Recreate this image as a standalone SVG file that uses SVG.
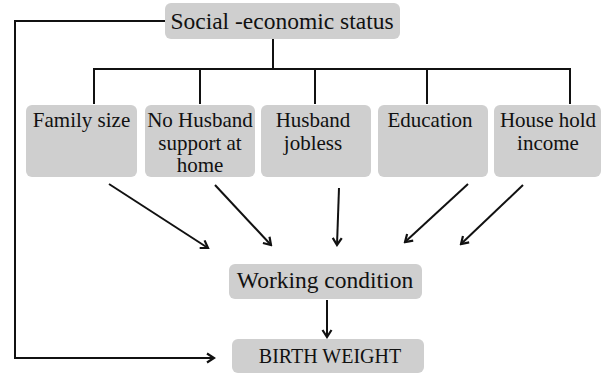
<svg xmlns="http://www.w3.org/2000/svg" width="603" height="374" viewBox="0 0 603 374">
<defs>
<style>
.box{fill:#cfcfcf;}
.t{font-family:"Liberation Serif","DejaVu Serif",serif;fill:#111;text-anchor:middle;}
.s{font-size:21px;}
.l{font-size:23.5px;}
.c{stroke:#111;stroke-width:2;fill:none;}
</style>
<marker id="ah" markerUnits="userSpaceOnUse" viewBox="-10 -6 12 12" refX="0" refY="0" markerWidth="12" markerHeight="12" orient="auto">
<path d="M-7,-4.5 L0,0 L-7,4.5" fill="none" stroke="#111" stroke-width="2.2"/>
</marker>
</defs>
<rect width="603" height="374" fill="#fff"/>
<g id="connectors">
<path class="c" d="M166,21 H15 V358 H214" marker-end="url(#ah)"/>
<path class="c" d="M273,39 V69"/>
<path class="c" d="M94,104 V69 H570 V104"/>
<path class="c" d="M200,69 V104"/>
<path class="c" d="M315,69 V104"/>
<path class="c" d="M427,69 V104"/>
<line class="c" x1="109" y1="184" x2="208" y2="248" marker-end="url(#ah)"/>
<line class="c" x1="215" y1="185" x2="271" y2="245" marker-end="url(#ah)"/>
<line class="c" x1="339" y1="188" x2="337" y2="245" marker-end="url(#ah)"/>
<line class="c" x1="468" y1="184" x2="405" y2="242" marker-end="url(#ah)"/>
<line class="c" x1="523" y1="185" x2="461" y2="244" marker-end="url(#ah)"/>
<line class="c" x1="327" y1="300" x2="327" y2="337" marker-end="url(#ah)"/>
</g>
<g id="ses">
<rect class="box" x="165" y="3" width="235" height="36" rx="6"/>
<text class="t l" x="282" y="29">Social -economic status</text>
</g>
<g id="family-size">
<rect class="box" x="26" y="105" width="111" height="72" rx="6"/>
<text class="t s" x="81.5" y="127">Family size</text>
</g>
<g id="no-husband">
<rect class="box" x="145" y="105" width="110" height="72" rx="6"/>
<text class="t s" x="200" y="127">No Husband<tspan x="200" dy="22.5">support at</tspan><tspan x="200" dy="22.5">home</tspan></text>
</g>
<g id="husband-jobless">
<rect class="box" x="261" y="105" width="110" height="72" rx="6"/>
<text class="t s" x="313" y="127">Husband<tspan x="313" dy="22.5">jobless</tspan></text>
</g>
<g id="education">
<rect class="box" x="378" y="105" width="110" height="72" rx="6"/>
<text class="t s" x="430" y="127">Education</text>
</g>
<g id="household-income">
<rect class="box" x="494" y="105" width="107" height="72" rx="6"/>
<text class="t s" x="548" y="127">House hold<tspan x="548" dy="22.5">income</tspan></text>
</g>
<g id="working-condition">
<rect class="box" x="229" y="264" width="193" height="35" rx="6"/>
<text class="t l" x="325" y="288">Working condition</text>
</g>
<g id="birth-weight">
<rect class="box" x="232" y="339" width="192" height="34" rx="6"/>
<text class="t" style="font-size:20px" x="330" y="363">BIRTH WEIGHT</text>
</g>
</svg>
